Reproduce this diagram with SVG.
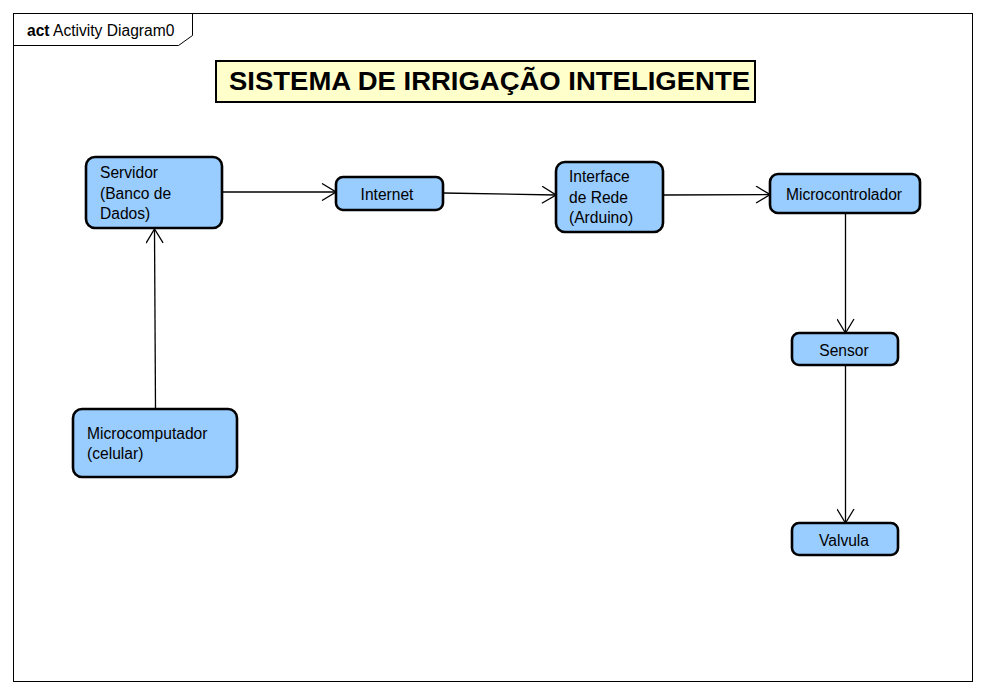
<svg xmlns="http://www.w3.org/2000/svg" width="986" height="694" viewBox="0 0 986 694">
<defs>
<style>
.frame{fill:none;stroke:#000;stroke-width:1}
.node{fill:#99ccff;stroke:#000;stroke-width:2.6}
.t{font-family:"Liberation Sans",Arial,sans-serif;font-size:15.6px;fill:#000}
.edge{fill:none;stroke:#000;stroke-width:1.3}
</style>
<marker id="arr" markerUnits="userSpaceOnUse" viewBox="0 0 16 18" refX="15" refY="9" markerWidth="16" markerHeight="18" orient="auto">
<path d="M1,0.5 L15,9 L1,17.5" fill="none" stroke="#000" stroke-width="1.3"/>
</marker>
</defs>
<rect x="0" y="0" width="986" height="694" fill="#fff"/>
<g id="frame">
<rect class="frame" x="13.5" y="13.5" width="959" height="668"/>
<path class="frame" d="M13.5,45.5 L178.5,45.5 L192.5,35.5 L192.5,13.5"/>
<text class="t" x="27" y="36"><tspan font-weight="bold">act</tspan> Activity Diagram0</text>
</g>
<g id="title">
<rect x="216" y="61" width="539" height="41" fill="#ffffcc" stroke="#000" stroke-width="2"/>
<text x="489.5" y="90" text-anchor="middle" font-family="Liberation Sans,Arial,sans-serif" font-weight="bold" font-size="26.5" textLength="521" lengthAdjust="spacingAndGlyphs">SISTEMA DE IRRIGAÇÃO INTELIGENTE</text>
</g>
<g id="connectors">
<line class="edge" x1="223" y1="192" x2="336" y2="192" marker-end="url(#arr)"/>
<line class="edge" x1="443" y1="193" x2="556" y2="195" marker-end="url(#arr)"/>
<line class="edge" x1="663" y1="195" x2="770" y2="194.5" marker-end="url(#arr)"/>
<line class="edge" x1="845.5" y1="213" x2="845.5" y2="333" marker-end="url(#arr)"/>
<line class="edge" x1="845.5" y1="365" x2="845.5" y2="523" marker-end="url(#arr)"/>
<line class="edge" x1="155.5" y1="409" x2="154.5" y2="229" marker-end="url(#arr)"/>
</g>
<g id="servidor">
<rect class="node" x="86" y="157" width="136" height="71" rx="9"/>
<text class="t" x="100" y="178">Servidor</text>
<text class="t" x="100" y="198.5">(Banco de</text>
<text class="t" x="100" y="219">Dados)</text>
</g>
<g id="internet">
<rect class="node" x="336" y="177" width="107" height="33" rx="7"/>
<text class="t" x="387" y="200" text-anchor="middle">Internet</text>
</g>
<g id="interface">
<rect class="node" x="556" y="162" width="107" height="70" rx="9"/>
<text class="t" x="569" y="182">Interface</text>
<text class="t" x="569" y="202.5">de Rede</text>
<text class="t" x="569" y="223">(Arduino)</text>
</g>
<g id="microcontrolador">
<rect class="node" x="770" y="174" width="150" height="39" rx="8"/>
<text class="t" x="844" y="200" text-anchor="middle">Microcontrolador</text>
</g>
<g id="sensor">
<rect class="node" x="792" y="333" width="106" height="32" rx="7"/>
<text class="t" x="844" y="355.5" text-anchor="middle">Sensor</text>
</g>
<g id="valvula">
<rect class="node" x="792" y="523" width="106" height="32" rx="7"/>
<text class="t" x="844" y="545.5" text-anchor="middle">Valvula</text>
</g>
<g id="microcomputador">
<rect class="node" x="73" y="409" width="164" height="68" rx="9"/>
<text class="t" x="87" y="439">Microcomputador</text>
<text class="t" x="87" y="459">(celular)</text>
</g>
</svg>
